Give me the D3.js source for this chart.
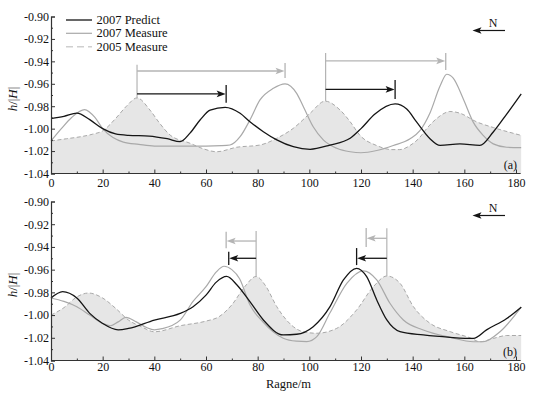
<!DOCTYPE html>
<html>
<head>
<meta charset="utf-8">
<script src="https://cdn.jsdelivr.net/npm/d3@7"></script>
<style>
  body { margin: 0; background: #fff; }
  svg, svg text { font-family: "Liberation Serif", "Times New Roman", Times, "DejaVu Serif", serif !important; }
</style>
</head>
<body>
<div id="chart"></div>
<script>
// Tick values
const xTicks = [0, 20, 40, 60, 80, 100, 120, 140, 160, 180];
const xMinor = [10, 30, 50, 70, 90, 110, 130, 150, 170];
const yTicks = [-1.04, -1.02, -1.00, -0.98, -0.96, -0.94, -0.92, -0.90];
const yMinor = [-1.03, -1.01, -0.99, -0.97, -0.95, -0.93, -0.91];

const seriesNames = ["2007 Predict", "2007 Measure", "2005 Measure"];

// Panel (a) — [range m, h/|H|]
const predictA = [[0,-0.991],[5,-0.989],[10,-0.9862],[15,-0.992],[20,-1.0],[25,-1.0047],[30,-1.006],[38,-1.0066],[45,-1.009],[50,-1.0116],
  [53.8,-1.004],[57.7,-0.9923],[61.6,-0.9834],[67.4,-0.981],[73.2,-0.9863],[77,-0.9938],[82.2,-1.0027],[87.4,-1.01],[93.8,-1.0161],
  [100.3,-1.0184],[108,-1.0146],[115.8,-1.0086],[120,-1.0],[125.4,-0.987],[133.2,-0.978],[137.7,-0.9825],[141.5,-0.994],
  [146.7,-1.009],[150.6,-1.015],[158.3,-1.0136],[166,-1.015],[171.2,-1.003],[176.4,-0.987],[182,-0.969]];
const measure07A = [[0,-1.011],[4,-1.0],[8,-0.99],[13,-0.983],[17,-0.99],[20,-1.0],[24,-1.008],[28,-1.012],[34,-1.014],[40,-1.0155],
  [50,-1.0155],[60,-1.0155],[66,-1.0152],[69.3,-1.0146],[73.2,-1.0072],[77,-0.9923],[80.9,-0.9744],[86.1,-0.964],[90.6,-0.96],
  [95.1,-0.9685],[97.7,-0.9804],[101.5,-0.9983],[105.4,-1.01],[110.6,-1.0175],[115.8,-1.0206],[120,-1.0215],[126.1,-1.0195],
  [132.5,-1.015],[139,-1.009],[142.8,-1.0018],[146.7,-0.986],[150.6,-0.962],[153.2,-0.9515],[155.7,-0.955],[159.6,-0.9735],
  [163.5,-0.9944],[167.3,-1.006],[171.2,-1.0136],[176.4,-1.0166],[182,-1.017]];
const measure05A = [[0,-1.011],[6,-1.009],[12,-1.007],[16,-1.005],[20,-1.002],[25,-0.991],[29.2,-0.98],[33.3,-0.9726],[38.3,-0.9834],
  [42,-0.995],[46.1,-1.0057],[53.8,-1.013],[59,-1.018],[64.1,-1.0206],[71.9,-1.0166],[80.9,-1.0146],[87.4,-1.0086],[93.8,-0.9997],
  [100.3,-0.9863],[106.1,-0.9755],[111.9,-0.9834],[115.8,-0.9938],[119.6,-1.006],[126,-1.015],[132,-1.0187],[135,-1.0187],
  [139,-1.015],[142.8,-1.0077],[145.4,-1.0],[149.3,-0.991],[152.5,-0.986],[154.4,-0.9847],[158,-0.986],[164.8,-0.994],
  [171.2,-0.999],[182,-1.006]];

// Panel (b)
const predictB = [[0,-0.985],[4.5,-0.9794],[10,-0.985],[15,-0.9985],[20,-1.0074],[26,-1.013],[30,-1.0118],[40,-1.0044],[50,-0.9985],
  [55,-0.9926],[60,-0.9824],[64,-0.971],[68,-0.966],[72,-0.9735],[77,-0.9882],[82.2,-1.0043],[89.9,-1.0175],[95.1,-1.0169],
  [101.5,-1.0102],[108,-0.9926],[113.2,-0.9691],[118.3,-0.9588],[122.2,-0.9662],[126.1,-0.9867],[130,-1.0043],[135.1,-1.0146],
  [144.1,-1.0175],[154.5,-1.0196],[163.5,-1.0206],[168.6,-1.013],[176.4,-1.003],[182,-0.993]];
const measure07B = [[0,-0.985],[5,-0.988],[10,-0.9926],[15,-1.0],[20,-1.0074],[23,-1.0094],[26,-1.006],[29,-1.002],[33,-1.006],
  [37,-1.011],[40,-1.013],[43,-1.012],[50,-1.0044],[55,-0.988],[60,-0.975],[64,-0.962],[67,-0.957],[70,-0.96],[73,-0.968],
  [77,-0.991],[82,-1.006],[89.9,-1.0204],[95,-1.023],[99,-1.0234],[102.9,-1.019],[108,-0.998],[114.5,-0.972],[120.9,-0.961],
  [126.1,-0.969],[131.2,-0.9896],[136.4,-1.0043],[144.1,-1.0131],[154.5,-1.0196],[163.5,-1.0235],[167.3,-1.0235],
  [173.8,-1.0147],[182,-0.993]];
const measure05B = [[0,-1.0],[5,-0.9935],[10,-0.984],[14.5,-0.9806],[20,-0.985],[25,-0.994],[30,-1.0044],[35,-1.0103],[40,-1.0147],
  [50,-1.0094],[60,-1.0053],[65,-1.0015],[70,-0.991],[75,-0.975],[79.4,-0.966],[83,-0.974],[87.4,-0.9926],[93.8,-1.0102],
  [98,-1.015],[102.9,-1.016],[110.6,-1.0117],[118.3,-0.9955],[124.8,-0.975],[130,-0.9656],[135.1,-0.972],[140.3,-0.9926],
  [146.7,-1.0072],[154.5,-1.0146],[162.2,-1.02],[166.1,-1.0235],[171.2,-1.0206],[176.4,-1.018],[182,-1.018]];

// Shift arrows: from x0 to x1 at level y, optional stem at x0, end tick [t0, t1]
const arrowsA = [
  { x0: 33.3, x1: 90.6, y: -0.9486, stem: -0.943, stemEnd: -0.9726, t0: -0.9415, t1: -0.9548, gray: true },
  { x0: 33.3, x1: 67.8, y: -0.969, t0: -0.961, t1: -0.977, gray: false },
  { x0: 106.3, x1: 152.8, y: -0.9396, stem: -0.9325, stemEnd: -0.9755, t0: -0.9325, t1: -0.9477, gray: true },
  { x0: 106.3, x1: 133.2, y: -0.965, t0: -0.9566, t1: -0.9735, gray: false }
];
const arrowsB = [
  { x0: 79.4, x1: 67.8, y: -0.9348, stem: -0.926, stemEnd: -0.966, t0: -0.9266, t1: -0.9412, gray: true },
  { x0: 79.4, x1: 68.8, y: -0.95, t0: -0.9442, t1: -0.9559, gray: false },
  { x0: 130, x1: 122, y: -0.9324, stem: -0.9236, stemEnd: -0.9656, t0: -0.9233, t1: -0.94, gray: true },
  { x0: 130, x1: 118.3, y: -0.95, t0: -0.941, t1: -0.956, gray: false }
];

const width = 537, height = 395;
const black = "#151515", gray = "#a9a9a9", fillGray = "#e6e6e6";
const serif = "'Liberation Serif', 'Times New Roman', Times, 'DejaVu Serif', serif";

const svg = d3.select("#chart").append("svg")
  .attr("width", width).attr("height", height);

const x = d3.scaleLinear().domain([0, 180]).range([51, 516]);
const xEnd = 181.8;

function arrowHead(g, tipX, tipY, dir, color) {
  // dir = +1 pointing right, -1 pointing left
  const L = 9, W = 3.3;
  g.append("path")
    .attr("d", `M${tipX},${tipY}L${tipX - dir * L},${tipY - W}L${tipX - dir * L + dir * 2},${tipY}L${tipX - dir * L},${tipY + W}Z`)
    .attr("fill", color);
}

function drawPanel(yRange, predict, m07, m05, arrows, label, xPad, showLegend) {
  const y = d3.scaleLinear().domain([-1.04, -0.90]).range(yRange);
  const g = svg.append("g");

  // filled area under 2005 measurement
  const area = d3.area()
    .x(d => x(d[0])).y0(y(-1.04)).y1(d => y(d[1]))
    .curve(d3.curveMonotoneX);
  g.append("path").attr("d", area(m05)).attr("fill", fillGray);

  const line = d3.line()
    .x(d => x(d[0])).y(d => y(d[1]))
    .curve(d3.curveMonotoneX);

  g.append("path").attr("d", line(m05)).attr("fill", "none")
    .attr("stroke", gray).attr("stroke-width", 1).attr("stroke-dasharray", "4,2.5");
  g.append("path").attr("d", line(m07)).attr("fill", "none")
    .attr("stroke", gray).attr("stroke-width", 1.2);
  g.append("path").attr("d", line(predict)).attr("fill", "none")
    .attr("stroke", black).attr("stroke-width", 1.3);

  // arrows
  arrows.forEach(a => {
    const c = a.gray ? "#b4b4b4" : black;
    const dir = a.x1 > a.x0 ? 1 : -1;
    if (a.stem !== undefined) {
      g.append("line").attr("x1", x(a.x0)).attr("x2", x(a.x0))
        .attr("y1", y(a.stem)).attr("y2", y(a.stemEnd))
        .attr("stroke", "#b4b4b4").attr("stroke-width", 1.2);
    }
    g.append("line").attr("x1", x(a.x0)).attr("x2", x(a.x1) - dir * 6)
      .attr("y1", y(a.y)).attr("y2", y(a.y))
      .attr("stroke", c).attr("stroke-width", 1.3);
    arrowHead(g, x(a.x1) - dir * 0.5, y(a.y), dir, c);
    g.append("line").attr("x1", x(a.x1)).attr("x2", x(a.x1))
      .attr("y1", y(a.t0)).attr("y2", y(a.t1))
      .attr("stroke", c).attr("stroke-width", 1.3);
  });

  // axes
  const axisColor = "#333";
  const yAxis = g.append("g").attr("transform", `translate(${x(0)},0)`)
    .call(d3.axisLeft(y).tickValues(yTicks).tickSize(-4).tickPadding(2)
      .tickFormat(d => d.toFixed(2)));
  g.append("g").attr("transform", `translate(${x(0)},0)`)
    .call(d3.axisLeft(y).tickValues(yMinor).tickSize(-2).tickFormat(""))
    .select(".domain").remove();
  const xAxis = g.append("g").attr("transform", `translate(0,${y(-1.04)})`)
    .call(d3.axisBottom(x).tickValues(xTicks).tickSize(-4).tickPadding(xPad)
      .tickFormat(d3.format("d")));
  xAxis.select(".domain").remove();
  g.append("g").attr("transform", `translate(0,${y(-1.04)})`)
    .call(d3.axisBottom(x).tickValues(xMinor).tickSize(-2).tickFormat(""))
    .select(".domain").remove();
  g.append("line").attr("x1", x(0)).attr("x2", x(xEnd))
    .attr("y1", y(-1.04)).attr("y2", y(-1.04))
    .attr("stroke", axisColor).attr("stroke-width", 1.2);
  g.selectAll("g").attr("font-family", serif);
  [yAxis, xAxis].forEach(ax => {
    ax.selectAll("text").attr("font-size", 12).attr("fill", "#111");
    ax.select(".domain").attr("stroke", axisColor).attr("stroke-width", 1.2);
  });
  g.selectAll(".tick line").attr("stroke", axisColor);

  // y label h/|H|
  const yl = g.append("text")
    .attr("transform", `translate(17,${(yRange[0] + yRange[1]) / 2 + 4}) rotate(-90)`)
    .attr("text-anchor", "middle").attr("font-size", 13).attr("fill", "#111");
  yl.append("tspan").attr("font-style", "italic").text("h");
  yl.append("tspan").text("/|");
  yl.append("tspan").attr("font-style", "italic").text("H");
  yl.append("tspan").text("|");

  // panel label
  g.append("text").attr("x", 517).attr("y", y(-1.04) - 5)
    .attr("text-anchor", "end").attr("font-size", 12).attr("fill", "#111").text(label);

  // north arrow
  const ny = yRange[1] + 14;
  g.append("line").attr("x1", 505).attr("x2", 479).attr("y1", ny).attr("y2", ny)
    .attr("stroke", black).attr("stroke-width", 1.2);
  arrowHead(g, 472.5, ny, -1, black);
  g.append("text").attr("x", 493).attr("y", ny - 4).attr("text-anchor", "middle")
    .attr("font-size", 12).attr("fill", "#111").text("N");

  if (showLegend) {
    const ly = [20, 33.3, 46.7];
    const styles = [
      { stroke: black, dash: null, w: 1.3 },
      { stroke: gray, dash: null, w: 1.2 },
      { stroke: "#cfcfcf", dash: "7,4", w: 1.5 }
    ];
    seriesNames.forEach((name, i) => {
      g.append("line").attr("x1", 66).attr("x2", 92).attr("y1", ly[i]).attr("y2", ly[i])
        .attr("stroke", styles[i].stroke).attr("stroke-width", styles[i].w)
        .attr("stroke-dasharray", styles[i].dash);
      g.append("text").attr("x", 96.5).attr("y", ly[i] + 4)
        .attr("font-size", 12.5).attr("fill", "#111").text(name);
    });
  }
}

drawPanel([173.5, 16.5], predictA, measure07A, measure05A, arrowsA, "(a)", 5, true);
drawPanel([360.5, 201.5], predictB, measure07B, measure05B, arrowsB, "(b)", 2, false);

svg.append("text").attr("x", 288.5).attr("y", 388)
  .attr("text-anchor", "middle").attr("font-size", 12.5).attr("fill", "#111").text("Ragne/m");
</script>
</body>
</html>
